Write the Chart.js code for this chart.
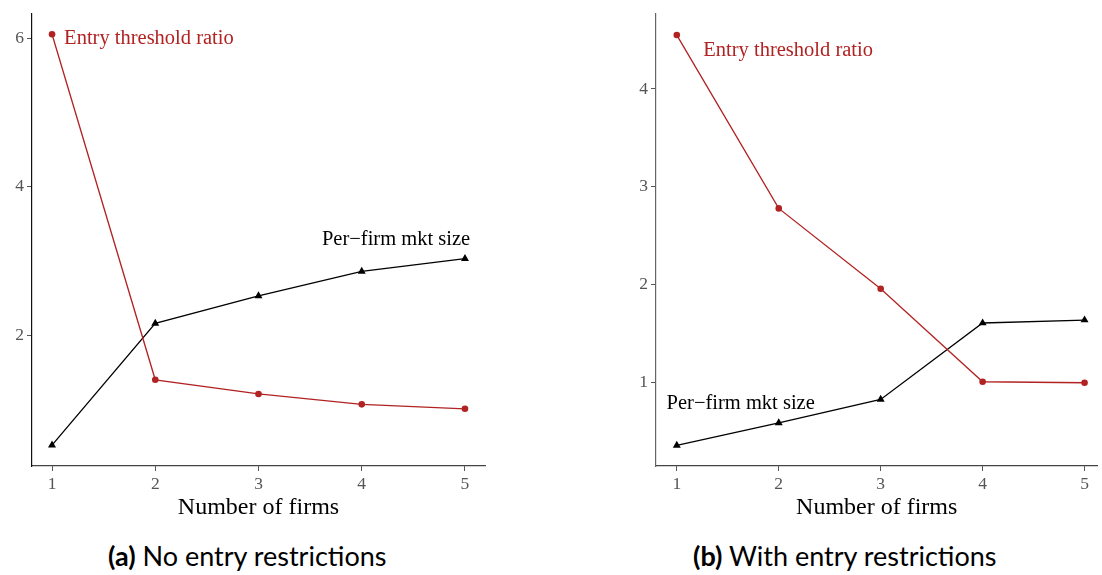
<!DOCTYPE html>
<html>
<head>
<meta charset="utf-8">
<script src="https://cdn.jsdelivr.net/npm/chart.js@4.4.1/dist/chart.umd.min.js"></script>
<style>
    body { margin: 0; background: #fff; width: 1102px; height: 575px; position: relative; overflow: hidden; }
    .panel { position: absolute; top: 0; height: 520px; }
    #panelA { left: 0; width: 490px; }
    #panelB { left: 620px; width: 482px; }
    .caption { position: absolute; top: 539px; font-family: Lato, sans-serif; font-size: 27px; color: #000; white-space: nowrap; }
    .caption b { font-weight: 700; }
</style>
</head>
<body>
<div class="panel" id="panelA"><canvas id="chartA"></canvas></div>
<div class="panel" id="panelB"><canvas id="chartB"></canvas></div>
<div class="caption" style="left:108px"><b>(a)</b> No entry restrictions</div>
<div class="caption" style="left:693px"><b>(b)</b> With entry restrictions</div>
<script>
// Data
const firms = [1, 2, 3, 4, 5];
const ratioA = [6.05, 1.40, 1.21, 1.07, 1.01];
const sizeA = [0.52, 2.16, 2.53, 2.86, 3.03];
const ratioB = [4.55, 2.78, 1.96, 1.01, 1.00];
const sizeB = [0.36, 0.59, 0.83, 1.61, 1.64];
const yTicksA = [2, 4, 6];
const yTicksB = [1, 2, 3, 4];
const RED = '#b22222';
const SERIF = '"Liberation Serif", "DejaVu Serif", serif';

// Plugin vẽ nhãn series theo toạ độ dữ liệu
const seriesLabels = {
    id: 'seriesLabels',
    afterDatasetsDraw(chart, args, opts) {
        const { ctx, scales: { x, y } } = chart;
        ctx.save();
        (opts.items || []).forEach(it => {
            ctx.font = '20.5px ' + SERIF;
            ctx.fillStyle = it.color;
            ctx.textAlign = it.align;
            ctx.textBaseline = 'middle';
            ctx.fillText(it.text, x.getPixelForValue(it.x), y.getPixelForValue(it.y));
        });
        ctx.restore();
    }
};

const ChartManager = {
    charts: {},

    build(id, ratio, size, yTicks, cfg) {
        const ctx = document.getElementById(id).getContext('2d');
        this.charts[id] = new Chart(ctx, {
            type: 'line',
            data: {
                datasets: [
                    {
                        label: 'Entry threshold ratio',
                        data: firms.map((f, i) => ({ x: f, y: ratio[i] })),
                        borderColor: RED,
                        backgroundColor: RED,
                        borderWidth: 1.3,
                        pointStyle: 'circle',
                        pointRadius: 3.3,
                        pointBorderWidth: 0
                    },
                    {
                        label: 'Per−firm mkt size',
                        data: firms.map((f, i) => ({ x: f, y: size[i] })),
                        borderColor: '#000',
                        backgroundColor: '#000',
                        borderWidth: 1.3,
                        pointStyle: 'triangle',
                        pointRadius: 4.6,
                        pointBorderWidth: 0
                    }
                ]
            },
            options: {
                responsive: true,
                maintainAspectRatio: false,
                animation: false,
                clip: false,
                layout: { padding: { top: 9, right: cfg.padRight, left: 0, bottom: 0 } },
                plugins: {
                    legend: { display: false },
                    tooltip: { enabled: false },
                    seriesLabels: { items: cfg.labels }
                },
                scales: {
                    x: {
                        type: 'linear',
                        min: cfg.xMin,
                        max: cfg.xMax,
                        afterBuildTicks: s => { s.ticks = firms.map(v => ({ value: v })); },
                        afterFit: s => { s.height = 54; },
                        grid: { drawOnChartArea: false, tickLength: 5, tickColor: '#555' },
                        border: { color: '#444', width: 1.2 },
                        ticks: { color: '#555', padding: 3, font: { family: SERIF, size: 17.5 } },
                        title: {
                            display: true,
                            text: 'Number of firms',
                            color: '#000',
                            padding: { top: 0, bottom: 0 },
                            font: { family: SERIF, size: 24, lineHeight: 1.0 }
                        }
                    },
                    y: {
                        min: cfg.yMin,
                        max: cfg.yMax,
                        afterBuildTicks: s => { s.ticks = yTicks.map(v => ({ value: v })); },
                        afterFit: s => { s.width = cfg.yWidth; },
                        grid: { drawOnChartArea: false, tickLength: 5, tickColor: '#555' },
                        border: { color: cfg.yAxisColor, width: 1.2 },
                        ticks: { color: '#555', padding: 3, font: { family: SERIF, size: 17.5 } }
                    }
                }
            },
            plugins: [seriesLabels]
        });
    }
};

ChartManager.build('chartA', ratioA, sizeA, yTicksA, {
    xMin: 0.806, xMax: 5.194, yMin: 0.24, yMax: 6.33, yWidth: 32, padRight: 5, yAxisColor: '#111',
    labels: [
        { text: 'Entry threshold ratio', x: 1.117, y: 5.99, color: RED, align: 'left' },
        { text: 'Per−firm mkt size', x: 5.05, y: 3.29, color: '#000', align: 'right' }
    ]
});

ChartManager.build('chartB', ratioB, sizeB, yTicksB, {
    xMin: 0.796, xMax: 5.126, yMin: 0.15, yMax: 4.77, yWidth: 36, padRight: 0, yAxisColor: '#666',
    labels: [
        { text: 'Entry threshold ratio', x: 1.26, y: 4.39, color: RED, align: 'left' },
        { text: 'Per−firm mkt size', x: 0.90, y: 0.79, color: '#000', align: 'left' }
    ]
});
</script>
</body>
</html>
